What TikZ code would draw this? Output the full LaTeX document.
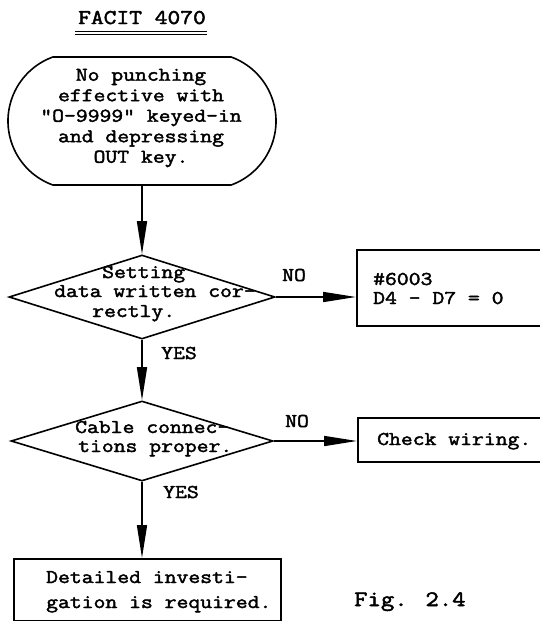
\documentclass[tikz,border=0pt]{standalone}
\usepackage{fontspec}
\usetikzlibrary{shapes.geometric,shapes.misc,arrows.meta,calc}
% serif typewriter face used throughout the chart
\newfontfamily\tw{Latin Modern Mono}[FakeStretch=1.18, FakeBold=2.2]

\begin{document}
\begin{tikzpicture}[x=1pt,y=-1pt,
  lw/.style={line width=1.6pt},
  txt/.style={inner sep=0pt, font=\tw\fontsize{19.5}{20.5}\selectfont},
  term/.style={draw, lw, rounded rectangle, rounded rectangle arc length=140,
    minimum width=268pt, minimum height=128pt, inner sep=0pt},
  dia/.style={draw, lw, diamond, inner sep=0pt},
  box/.style={draw, lw, rectangle, inner sep=0pt, anchor=north west},
  arr/.style={lw, -{Triangle[length=33pt,width=10pt]}}]
\useasboundingbox (0,0) rectangle (539,621);

% heading with double rule
\node[txt, anchor=base, font=\tw\fontsize{21}{24}\selectfont] (title) at (142,24) {FACIT 4070};
\draw[line width=1pt] ($(title.base west)+(-3,7)$) -- ($(title.base east)+(1,7)$);
\draw[line width=1pt] ($(title.base west)+(-3,10)$) -- ($(title.base east)+(1,10)$);

% start terminal
\node[term] (start) at (142,121) {};
\node[txt, align=center] (startt) at (141,118)
  {No punching\\effective with\\"O-9999" keyed-in\\and depressing\\OUT key.};

% first decision
\node[dia, minimum width=266pt, minimum height=84pt] (d1) at (142,297) {};
\node[txt, anchor=base west] (d1a) at (102,278) {Setting};
\node[txt, anchor=base west] (d1b) at (54,297) {data written cor-};
\node[txt, anchor=base west] (d1c) at (92,317) {rectly.};

% register box
\node[box, minimum width=200pt, minimum height=76pt] (b1) at (356,249) {};
\node[txt, anchor=base west] (b1a) at (373,285) {\#6003};
\node[txt, anchor=base west] (b1b) at (373,304) {D4 - D7 = 0};

% second decision
\node[dia, minimum width=262pt, minimum height=80pt] (d2) at (142,441) {};
\node[txt, anchor=base west] (d2a) at (75,433) {Cable connec-};
\node[txt, anchor=base west] (d2b) at (78,452) {tions proper.};

% wiring box
\node[box, minimum width=200pt, minimum height=44pt] (b2) at (357,417) {};
\node[txt, anchor=base west] (b2a) at (377,445) {Check wiring.};

% final box
\node[box, minimum width=267pt, minimum height=62pt] (b3) at (13,558) {};
\node[txt, anchor=base west] (b3a) at (46,583) {Detailed investi-};
\node[txt, anchor=base west] (b3b) at (46,608) {gation is required.};

% branch labels
\node[txt, anchor=base west] (no1) at (282,281) {NO};
\node[txt, anchor=base west] (yes1) at (161,359) {YES};
\node[txt, anchor=base west] (no2) at (285,427) {NO};
\node[txt, anchor=base west] (yes2) at (163,498) {YES};

% figure caption
\node[txt, anchor=base west, font=\tw\fontsize{22}{24}\selectfont] (fig) at (354,606) {Fig. 2.4};

% connectors
\draw[arr] (start.south) -- (d1.north);
\draw[arr] (d1.east) -- (d1.east -| b1.west);
\draw[arr] (d1.south) -- (d2.north);
\draw[arr] (d2.east) -- (d2.east -| b2.west);
\draw[arr] (d2.south) -- (d2.south |- b3.north);
\end{tikzpicture}
\end{document}
